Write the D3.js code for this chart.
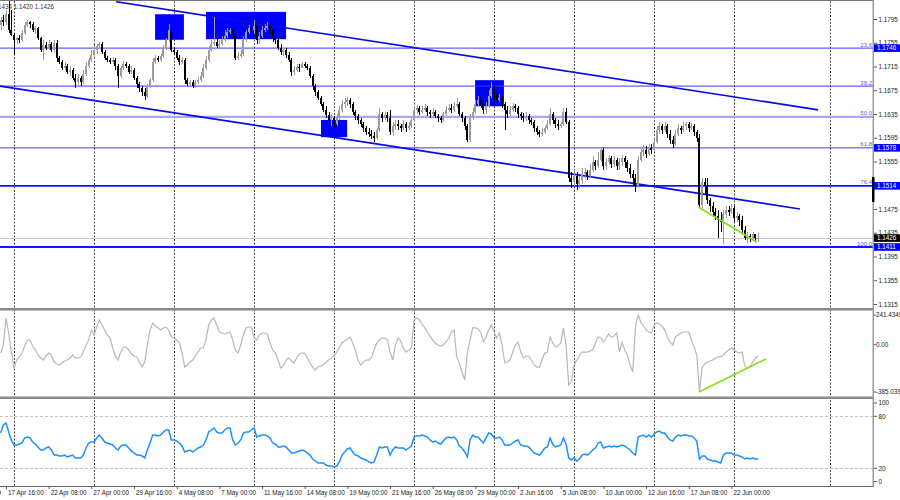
<!DOCTYPE html>
<html><head><meta charset="utf-8">
<script src="https://cdn.jsdelivr.net/npm/d3@7"></script>
<style>body{margin:0;background:#fff}svg{display:block;font-family:"Liberation Sans",Arial,sans-serif}</style>
</head><body><svg id="c" width="900" height="500"></svg>
<script>
// ---------------- DATA ----------------
const symbolText = "EURUSD,H4 1.1430 1.1434 1.1420 1.1426";
const firstOpen = 1.1785;
const closes = [1.1793,1.1790,1.1803,1.1776,1.1768,1.1760,1.1763,1.1760,1.1771,1.1785,
1.1790,1.1787,1.1776,1.1780,1.1763,1.1743,1.1751,1.1746,1.1753,1.1743,
1.1755,1.1729,1.1723,1.1712,1.1716,1.1706,1.1709,1.1696,1.1689,1.1696,
1.1689,1.1702,1.1716,1.1726,1.1734,1.1743,1.1750,1.1753,1.1739,1.1729,
1.1726,1.1723,1.1726,1.1716,1.1699,1.1712,1.1719,1.1716,1.1706,1.1709,
1.1696,1.1685,1.1679,1.1672,1.1665,1.1682,1.1692,1.1723,1.1729,1.1726,
1.1733,1.1746,1.1760,1.1776,1.1743,1.1739,1.1729,1.1723,1.1726,1.1692,
1.1685,1.1689,1.1682,1.1689,1.1692,1.1699,1.1712,1.1726,1.1743,1.1753,
1.1756,1.1750,1.1753,1.1760,1.1766,1.1773,1.1776,1.1770,1.1729,1.1733,
1.1736,1.1760,1.1773,1.1780,1.1776,1.1783,1.1760,1.1766,1.1776,1.1780,
1.1783,1.1776,1.1763,1.1760,1.1746,1.1739,1.1743,1.1734,1.1726,1.1706,
1.1709,1.1714,1.1712,1.1719,1.1716,1.1712,1.1699,1.1682,1.1672,1.1662,
1.1652,1.1642,1.1633,1.1625,1.1628,1.1618,1.1628,1.1642,1.1652,1.1655,
1.1659,1.1652,1.1638,1.1632,1.1625,1.1618,1.1611,1.1605,1.1601,1.1598,
1.1595,1.1608,1.1635,1.1628,1.1633,1.1628,1.1605,1.1615,1.1618,1.1615,
1.1611,1.1618,1.1611,1.1615,1.1625,1.1642,1.1645,1.1638,1.1642,1.1645,
1.1638,1.1635,1.1638,1.1632,1.1628,1.1625,1.1635,1.1642,1.1645,1.1642,
1.1648,1.1652,1.1635,1.1628,1.1615,1.1591,1.1628,1.1638,1.1652,1.1659,
1.1652,1.1642,1.1648,1.1665,1.1679,1.1669,1.1659,1.1662,1.1652,1.1642,
1.1635,1.1642,1.1648,1.1645,1.1635,1.1632,1.1628,1.1632,1.1625,1.1622,
1.1611,1.1605,1.1601,1.1605,1.1611,1.1618,1.1635,1.1625,1.1618,1.1615,
1.1618,1.1638,1.1622,1.1527,1.1520,1.1531,1.1517,1.1524,1.1534,1.1537,
1.1531,1.1541,1.1554,1.1547,1.1558,1.1574,1.1547,1.1554,1.1561,1.1551,
1.1558,1.1547,1.1554,1.1561,1.1554,1.1544,1.1534,1.1527,1.1514,1.1558,
1.1571,1.1574,1.1568,1.1578,1.1574,1.1588,1.1608,1.1615,1.1608,1.1615,
1.1601,1.1591,1.1584,1.1601,1.1611,1.1608,1.1615,1.1618,1.1611,1.1615,
1.1605,1.1595,1.1482,1.1520,1.1514,1.1490,1.1480,1.1470,1.1463,1.1456,
1.1453,1.1467,1.1473,1.1470,1.1477,1.1460,1.1463,1.1456,1.1440,1.1426,
1.1429,1.1426,1.1433,1.1426,1.1426];
const highs = [1.1798,1.1802,1.1810,1.1827,1.1810,1.1771,1.1766,1.1768,1.1776,1.1790,
1.1793,1.1792,1.1790,1.1783,1.1782,1.1765,1.1760,1.1756,1.1760,1.1756,
1.1760,1.1760,1.1733,1.1726,1.1723,1.1719,1.1716,1.1712,1.1702,1.1702,
1.1699,1.1709,1.1723,1.1729,1.1743,1.1751,1.1753,1.1756,1.1756,1.1743,
1.1733,1.1729,1.1731,1.1729,1.1719,1.1716,1.1724,1.1723,1.1719,1.1716,
1.1712,1.1699,1.1689,1.1682,1.1679,1.1685,1.1696,1.1729,1.1734,1.1733,
1.1736,1.1751,1.1763,1.1787,1.1780,1.1746,1.1743,1.1734,1.1731,1.1729,
1.1696,1.1692,1.1692,1.1692,1.1697,1.1706,1.1719,1.1733,1.1750,1.1760,
1.1798,1.1763,1.1760,1.1766,1.1776,1.1780,1.1780,1.1780,1.1773,1.1739,
1.1743,1.1766,1.1776,1.1785,1.1787,1.1793,1.1787,1.1773,1.1783,1.1787,
1.1790,1.1787,1.1780,1.1766,1.1763,1.1753,1.1746,1.1746,1.1739,1.1729,
1.1716,1.1719,1.1719,1.1723,1.1723,1.1719,1.1716,1.1702,1.1685,1.1675,
1.1665,1.1655,1.1648,1.1638,1.1635,1.1632,1.1635,1.1648,1.1659,1.1662,
1.1664,1.1662,1.1655,1.1642,1.1635,1.1628,1.1622,1.1615,1.1611,1.1608,
1.1605,1.1611,1.1645,1.1638,1.1638,1.1638,1.1642,1.1622,1.1625,1.1625,
1.1618,1.1625,1.1622,1.1622,1.1628,1.1648,1.1650,1.1648,1.1648,1.1652,
1.1648,1.1642,1.1645,1.1642,1.1635,1.1632,1.1638,1.1648,1.1652,1.1652,
1.1655,1.1662,1.1655,1.1638,1.1632,1.1618,1.1635,1.1645,1.1659,1.1665,
1.1662,1.1659,1.1655,1.1675,1.1689,1.1682,1.1672,1.1669,1.1665,1.1655,
1.1648,1.1648,1.1654,1.1652,1.1648,1.1638,1.1637,1.1638,1.1635,1.1628,
1.1625,1.1615,1.1608,1.1611,1.1615,1.1625,1.1645,1.1638,1.1628,1.1625,
1.1622,1.1645,1.1645,1.1625,1.1537,1.1541,1.1537,1.1531,1.1544,1.1544,
1.1541,1.1551,1.1564,1.1558,1.1571,1.1578,1.1578,1.1561,1.1566,1.1564,
1.1564,1.1561,1.1561,1.1566,1.1564,1.1558,1.1551,1.1541,1.1534,1.1564,
1.1578,1.1583,1.1581,1.1584,1.1584,1.1595,1.1615,1.1622,1.1618,1.1622,
1.1618,1.1608,1.1598,1.1608,1.1618,1.1615,1.1622,1.1622,1.1622,1.1620,
1.1618,1.1608,1.1601,1.1527,1.1527,1.1527,1.1494,1.1487,1.1477,1.1473,
1.1470,1.1473,1.1480,1.1480,1.1483,1.1480,1.1470,1.1467,1.1463,1.1446,
1.1436,1.1433,1.1436,1.1433,1.1434];
const lows = [1.1776,1.1783,1.1785,1.1771,1.1766,1.1734,1.1753,1.1755,1.1756,1.1768,
1.1782,1.1780,1.1773,1.1770,1.1760,1.1739,1.1726,1.1743,1.1743,1.1739,
1.1739,1.1723,1.1719,1.1709,1.1709,1.1702,1.1699,1.1692,1.1679,1.1682,
1.1682,1.1685,1.1699,1.1712,1.1723,1.1729,1.1736,1.1746,1.1736,1.1726,
1.1723,1.1719,1.1719,1.1709,1.1679,1.1696,1.1709,1.1712,1.1702,1.1702,
1.1692,1.1679,1.1672,1.1665,1.1659,1.1662,1.1679,1.1689,1.1719,1.1723,
1.1723,1.1729,1.1743,1.1756,1.1739,1.1734,1.1726,1.1718,1.1719,1.1685,
1.1682,1.1682,1.1679,1.1679,1.1685,1.1689,1.1696,1.1709,1.1723,1.1739,
1.1750,1.1746,1.1746,1.1750,1.1756,1.1763,1.1770,1.1763,1.1726,1.1726,
1.1729,1.1733,1.1756,1.1770,1.1773,1.1770,1.1753,1.1753,1.1763,1.1773,
1.1776,1.1770,1.1756,1.1753,1.1743,1.1734,1.1733,1.1729,1.1723,1.1699,
1.1701,1.1706,1.1706,1.1712,1.1712,1.1709,1.1696,1.1675,1.1665,1.1659,
1.1648,1.1638,1.1628,1.1618,1.1615,1.1611,1.1615,1.1625,1.1638,1.1645,
1.1648,1.1645,1.1633,1.1625,1.1618,1.1613,1.1605,1.1600,1.1596,1.1593,
1.1588,1.1591,1.1605,1.1622,1.1625,1.1622,1.1600,1.1598,1.1608,1.1608,
1.1605,1.1608,1.1605,1.1608,1.1611,1.1622,1.1635,1.1633,1.1635,1.1638,
1.1632,1.1628,1.1632,1.1628,1.1622,1.1620,1.1622,1.1632,1.1638,1.1637,
1.1638,1.1645,1.1632,1.1622,1.1608,1.1588,1.1588,1.1625,1.1635,1.1648,
1.1645,1.1635,1.1635,1.1645,1.1662,1.1659,1.1652,1.1655,1.1645,1.1608,
1.1628,1.1632,1.1638,1.1638,1.1628,1.1625,1.1622,1.1623,1.1618,1.1616,
1.1605,1.1600,1.1596,1.1598,1.1601,1.1608,1.1615,1.1618,1.1611,1.1608,
1.1611,1.1615,1.1618,1.1520,1.1510,1.1514,1.1507,1.1510,1.1517,1.1527,
1.1524,1.1527,1.1537,1.1541,1.1544,1.1554,1.1541,1.1541,1.1549,1.1544,
1.1546,1.1541,1.1541,1.1547,1.1544,1.1537,1.1527,1.1514,1.1504,1.1510,
1.1554,1.1564,1.1561,1.1564,1.1568,1.1571,1.1584,1.1601,1.1601,1.1605,
1.1595,1.1584,1.1578,1.1581,1.1598,1.1601,1.1605,1.1608,1.1605,1.1608,
1.1598,1.1588,1.1477,1.1477,1.1500,1.1483,1.1470,1.1463,1.1456,1.1426,
1.1436,1.1416,1.1460,1.1463,1.1467,1.1453,1.1453,1.1446,1.1433,1.1423,
1.1418,1.1419,1.1421,1.1421,1.1420];
const cci = [-68,-3,217,95,-60,-190,-125,-100,-68,-11,
38,38,-11,-43,-84,-108,-125,-92,-68,-84,
-141,-157,-165,-149,-133,-125,-108,-84,-108,-108,
-100,-60,-3,38,119,79,144,201,160,119,
79,54,-27,-92,-125,-60,-19,-19,-43,-76,
-92,-100,-141,-182,-141,-3,119,176,152,136,
119,136,144,119,62,54,38,14,-60,-182,
-165,-141,-125,-92,-60,-27,-27,38,160,201,
217,160,103,95,87,95,103,38,-43,-68,
-3,79,136,144,144,54,38,79,95,95,
87,14,-43,-68,-125,-190,-173,-125,-108,-133,
-149,-108,-76,-68,-68,-108,-149,-182,-206,-182,
-173,-165,-141,-125,-108,-92,-60,-19,14,30,
46,62,14,-43,-125,-165,-141,-125,-125,-108,
-43,14,38,54,54,38,-60,-125,-3,54,
30,-27,-60,-43,-27,201,217,201,168,136,
103,70,38,14,-3,-11,-3,22,54,103,
119,-100,-149,-222,-287,-60,38,136,136,128,
103,22,62,119,160,103,54,95,-3,-149,
-141,-125,-60,-3,22,-60,-108,-92,-92,-125,
-165,-182,-182,-125,-68,-60,62,14,-19,-11,
14,136,-3,-328,-304,-165,-125,-92,-60,-60,
-60,-51,-43,14,62,54,22,54,87,62,
70,95,-60,22,-43,-84,-165,-222,144,241.4349,
184,152,119,103,95,160,176,168,152,119,
62,22,-3,62,79,95,103,103,103,38,
-19,-84,-385.0399,-190,-157,-141,-133,-125,-108,-100,
-100,-84,-60,-43,-27,-43,-60,-68,-60,-173,
-190,-173,-141,-108,-92];
const rsi = [60.7,70.0,72.3,61.9,52.7,46.9,46.9,48.0,49.2,55.0,
56.1,55.0,50.3,48.0,44.6,41.1,41.1,43.4,44.6,41.1,
35.3,35.3,34.2,34.2,35.3,33.0,34.2,35.3,31.9,31.9,
31.9,35.3,43.4,49.2,50.3,50.3,55.0,58.4,55.0,50.3,
49.2,48.0,46.9,43.4,41.1,45.7,46.9,46.9,43.4,40.0,
37.6,35.3,35.3,34.2,31.9,41.1,49.2,58.4,58.4,57.3,
58.4,61.9,64.2,64.2,52.7,52.7,51.5,49.2,45.7,38.8,
40.0,41.1,38.8,41.1,43.4,44.6,46.9,52.7,61.9,64.2,
66.5,61.9,60.7,60.7,64.2,66.5,66.5,52.7,46.9,49.2,
52.7,60.7,61.9,61.9,64.2,66.5,56.1,57.3,58.4,58.4,
57.3,55.0,49.2,48.0,44.6,44.6,45.7,44.6,41.1,37.6,
37.6,38.8,40.0,41.1,40.0,37.6,35.3,30.7,28.4,26.1,
26.1,26.1,23.8,22.6,22.6,21.5,22.6,27.3,35.3,38.8,
42.3,43.4,38.8,35.3,34.2,31.9,30.7,29.6,27.3,26.1,
27.3,35.3,44.6,43.4,44.6,44.6,35.3,41.1,44.6,43.4,
43.4,43.4,41.1,43.4,45.7,56.1,57.3,57.3,58.4,57.3,
56.1,52.7,50.3,51.5,49.2,48.0,51.5,55.0,56.1,55.0,
56.1,52.7,45.7,43.4,38.8,33.0,52.7,58.4,56.1,56.1,
52.7,49.2,55.0,60.7,59.6,55.0,55.0,56.1,52.7,46.9,
46.9,46.9,49.2,51.5,52.7,46.9,45.7,45.7,44.6,41.1,
37.6,36.5,35.3,38.8,43.4,44.6,55.0,48.0,44.6,45.7,
46.9,55.0,48.0,31.9,29.6,31.9,28.4,30.7,35.3,36.5,
35.3,37.6,41.1,43.4,49.2,50.3,43.4,44.6,45.7,44.6,
45.7,44.6,45.7,46.9,45.7,43.4,41.1,37.6,35.3,56.1,
57.3,58.4,56.1,58.4,56.1,59.6,61.9,63.0,60.7,60.7,
56.1,52.7,51.5,56.1,58.4,57.3,58.4,58.4,57.3,57.3,
55.0,51.5,30.7,34.2,34.2,30.7,29.6,28.4,28.4,27.3,
26.1,35.3,37.6,37.6,37.6,35.3,35.3,34.2,33.0,30.7,
31.9,30.7,31.9,30.7,30.7];
const timeBars = [-14,2,18,34,50,66,82,98,114,130,146,162,178,194,210,226,242,258,274];
const timeLabels = ["15 Apr 16:00","17 Apr 16:00","22 Apr 08:00","27 Apr 00:00","29 Apr 16:00","4 May 08:00","7 May 00:00","11 May 16:00","14 May 08:00","19 May 00:00","21 May 16:00","26 May 08:00","29 May 00:00","2 Jun 16:00","5 Jun 08:00","10 Jun 00:00","12 Jun 16:00","17 Jun 08:00","22 Jun 00:00"];
const gridBars = [5,35,65,95,125,155,185,215,245,275,311];
const priceTicks = [1.1795,1.1755,1.1715,1.1675,1.1635,1.1595,1.1555,1.1515,1.1475,1.1435,1.1395,1.1355,1.1315];
const fibPrices = [1.1746,1.1682,1.1630,1.1578,1.1514,1.1411];
const fibNames = ["23.6","38.2","50.0","61.8","76.4","100.0"];
const fibTagged = [true,false,false,true,true,true];
const lastPrice = 1.1426;
const axisMarker = [1.1529,1.1487];
const channelUpper = [[43.3,1.1824],[306.5,1.1642]];
const channelLower = [[-0.3,1.1682],[299.7,1.1475]];
const priceTrend = [[261.8,1.1478],[283.6,1.1419]];
const cciTrend = [[261.8,-385],[287,-116]];
const boxes = [[57.9,68.7,1.1803,1.1760],[77,107,1.1807,1.1761],[120.1,129.9,1.1625,1.1596],[177.9,188.7,1.1692,1.1648]];
const cciTicks = [241.4349,0,-385.0399];
const cciTickText = ["241.4349","0.00","-385.0399"];
const rsiTicks = [100,80,20,0];
const rsiLevels = [80,20];

// ---------------- CHART ----------------
const FONT = "'Liberation Sans', Arial, sans-serif";
const W = 873;
const svg = d3.select("#c");
const x = d3.scaleLinear().domain([0,300]).range([0.67,800.77]);
const yP = d3.scaleLinear().domain([1.1315,1.1795]).range([304,19]);
const yC = d3.scaleLinear().domain([-385.0399,241.4349]).range([392,315]);
const yR = d3.scaleLinear().domain([0,100]).range([485.6,399]);

const opens = closes.map((c,i)=> i===0 ? firstOpen : closes[i-1]);
const bars = closes.map((c,i)=>({i, o:opens[i], c,
  h:Math.max(highs[i],opens[i],c), l:Math.min(lows[i],opens[i],c)}));

const defs = svg.append("defs");
defs.append("clipPath").attr("id","cm").append("rect").attr("x",0).attr("y",1).attr("width",W).attr("height",307);
defs.append("clipPath").attr("id","cc").append("rect").attr("x",0).attr("y",310.5).attr("width",W).attr("height",86);
defs.append("clipPath").attr("id","cr").append("rect").attr("x",0).attr("y",399).attr("width",W).attr("height",87);

svg.append("rect").attr("width",900).attr("height",500).attr("fill","#fff");

// top-left info text
svg.append("text").attr("x",54).attr("y",9).attr("text-anchor","end")
  .attr("font-size",6.3).attr("font-family",FONT).attr("fill","#333").text(symbolText);

// vertical grid
svg.append("g").selectAll("line").data(gridBars).join("line")
  .attr("x1",d=>Math.round(x(d))+0.5).attr("x2",d=>Math.round(x(d))+0.5)
  .attr("y1",1).attr("y2",486).attr("stroke","#4a4a4a").attr("stroke-width",1)
  .attr("stroke-dasharray","2,1.5");

// RSI level dashed lines
svg.append("g").selectAll("line").data(rsiLevels).join("line")
  .attr("x1",0).attr("x2",W).attr("y1",d=>Math.round(yR(d))+0.5).attr("y2",d=>Math.round(yR(d))+0.5)
  .attr("stroke","#c4c4c4").attr("stroke-dasharray","3,2");

const gm = svg.append("g").attr("clip-path","url(#cm)");

// boxes
gm.append("g").selectAll("rect").data(boxes).join("rect")
  .attr("x",d=>x(d[0])).attr("width",d=>x(d[1])-x(d[0]))
  .attr("y",d=>yP(d[2])).attr("height",d=>yP(d[3])-yP(d[2])).attr("fill","#0000ff");

// fib levels
function fibStroke(k){ return k===2 ? "#a6a6ff" : (k>=4 ? "#1414ff" : "#3a3aff"); }
function fibWidth(k){ return k===2 ? 2.2 : (k>=4 ? 1.8 : 1); }
gm.append("g").selectAll("line").data(fibPrices).join("line")
  .attr("x1",0).attr("x2",W).attr("y1",d=>yP(d)).attr("y2",d=>yP(d))
  .attr("stroke",(d,k)=>fibStroke(k)).attr("stroke-width",(d,k)=>fibWidth(k));
gm.append("g").selectAll("text").data(fibPrices).join("text")
  .attr("x",W-1).attr("y",d=>yP(d)-1.5).attr("text-anchor","end")
  .attr("font-size",6).attr("font-family",FONT).attr("fill","#5a5aff")
  .text((d,k)=>fibNames[k]);

// bid line
gm.append("line").attr("x1",0).attr("x2",W).attr("y1",Math.round(yP(lastPrice))+0.5).attr("y2",Math.round(yP(lastPrice))+0.5)
  .attr("stroke","#c8c8c8");

// channel lines
[channelUpper, channelLower].forEach(seg=>{
  gm.append("line").attr("x1",x(seg[0][0])).attr("y1",yP(seg[0][1]))
    .attr("x2",x(seg[1][0])).attr("y2",yP(seg[1][1]))
    .attr("stroke","#0808e8").attr("stroke-width",1.7);
});

// candles
const cg = gm.append("g").attr("shape-rendering","crispEdges");
bars.forEach(b=>{
  const col = b.c >= b.o ? "#9c9c9c" : "#000";
  const bx = Math.round(x(b.i)) - 1;
  cg.append("rect").attr("x",bx+1).attr("width",1)
    .attr("y",yP(b.h)).attr("height",Math.max(1,yP(b.l)-yP(b.h))).attr("fill",col);
  const top = yP(Math.max(b.o,b.c)), bot = yP(Math.min(b.o,b.c));
  cg.append("rect").attr("x",bx).attr("width",2)
    .attr("y",top).attr("height",Math.max(1,bot-top)).attr("fill",col);
});

// price trend (green)
gm.append("line").attr("x1",x(priceTrend[0][0])).attr("y1",yP(priceTrend[0][1]))
  .attr("x2",x(priceTrend[1][0])).attr("y2",yP(priceTrend[1][1]))
  .attr("stroke","#80e020").attr("stroke-width",1.6);

// CCI
const gc = svg.append("g").attr("clip-path","url(#cc)");
gc.append("path").datum(cci).attr("fill","none").attr("stroke","#b8b8b8").attr("stroke-width",1.2)
  .attr("d",d3.line().x((d,i)=>x(i)).y(d=>yC(d)));
gc.append("line").attr("x1",x(cciTrend[0][0])).attr("y1",yC(cciTrend[0][1]))
  .attr("x2",x(cciTrend[1][0])).attr("y2",yC(cciTrend[1][1]))
  .attr("stroke","#80e020").attr("stroke-width",1.6);

// RSI
const gr = svg.append("g").attr("clip-path","url(#cr)");
gr.append("path").datum(rsi).attr("fill","none").attr("stroke","#1e90ff").attr("stroke-width",1.5)
  .attr("d",d3.line().x((d,i)=>x(i)).y(d=>yR(d)));

// frames / separators
svg.append("line").attr("x1",0).attr("x2",W).attr("y1",0.5).attr("y2",0.5).attr("stroke","#777");
svg.append("rect").attr("x",0).attr("y",308).attr("width",W+1).attr("height",2.5).attr("fill","#8a8a8a");
svg.append("rect").attr("x",0).attr("y",396.5).attr("width",W+1).attr("height",2.5).attr("fill","#8a8a8a");
svg.append("line").attr("x1",0).attr("x2",W+1).attr("y1",486.5).attr("y2",486.5).attr("stroke","#666");
svg.append("rect").attr("x",W-0.5).attr("y",0).attr("width",1.5).attr("height",487).attr("fill","#9a9a9a");

// price axis
const ay = svg.append("g").attr("transform",`translate(${W+1},0)`)
  .call(d3.axisRight(yP).tickValues(priceTicks).tickSize(3).tickPadding(1.5).tickFormat(d3.format(".4f")));
ay.select(".domain").remove();
ay.attr("font-size",6.3).attr("font-family",FONT);
ay.selectAll("text").attr("fill","#222");
ay.selectAll("line").attr("stroke","#555");

// axis marker
svg.append("rect").attr("x",W-1).attr("width",2.5).attr("y",yP(axisMarker[0])).attr("height",yP(axisMarker[1])-yP(axisMarker[0])).attr("fill","#000");

// price tags
function tag(p, fill){
  const yy = yP(p);
  svg.append("rect").attr("x",W+1).attr("y",yy-3.8).attr("width",26).attr("height",7.6).attr("fill",fill);
  svg.append("text").attr("x",W+4).attr("y",yy).attr("dy","0.36em").attr("font-size",6.3)
    .attr("font-family",FONT).attr("fill","#fff").text(p.toFixed(4));
}
fibPrices.forEach((p,k)=>{ if(fibTagged[k]) tag(p,"#0000ff"); });
tag(lastPrice,"#000");

// CCI axis
const acg = svg.append("g").attr("font-size",6.3).attr("font-family",FONT);
cciTicks.forEach((v,k)=>{
  const yy = yC(v);
  acg.append("line").attr("x1",W+1).attr("x2",W+3).attr("y1",yy).attr("y2",yy).attr("stroke","#555");
  acg.append("text").attr("x",W+3).attr("y",yy).attr("dy","0.36em").attr("fill","#222").text(cciTickText[k]);
});
// RSI axis (labels clamped inside the window, as the terminal does)
const arg = svg.append("g").attr("font-size",6.3).attr("font-family",FONT);
rsiTicks.forEach(v=>{
  const yy = Math.min(Math.max(yR(v),403),481.5);
  arg.append("line").attr("x1",W+1).attr("x2",W+4).attr("y1",yy).attr("y2",yy).attr("stroke","#555");
  arg.append("text").attr("x",W+5.5).attr("y",yy).attr("dy","0.36em").attr("fill","#222").text(v);
});

// time axis
const ax = svg.append("g").attr("transform","translate(0,486)")
  .call(d3.axisBottom(x).tickValues(timeBars).tickSize(3).tickPadding(2)
    .tickFormat((d,i)=>timeLabels[i]));
ax.select(".domain").remove();
ax.attr("font-size",6.3).attr("font-family",FONT);
ax.selectAll("text").attr("text-anchor","start").attr("dx",1.5).attr("fill","#222");
ax.selectAll("line").attr("stroke","#555");
</script>
</body></html>
